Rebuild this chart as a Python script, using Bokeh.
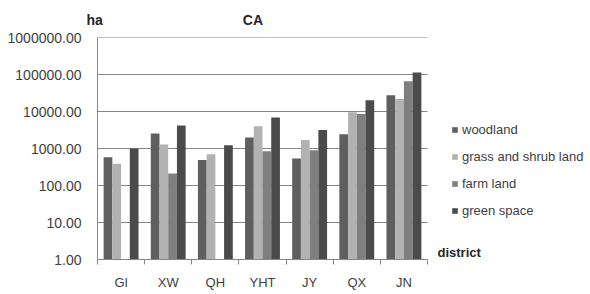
from bokeh.plotting import figure
from bokeh.models import (ColumnDataSource, Range1d, FixedTicker, PrintfTickFormatter,
                          Legend, LegendItem, Title, Label)
from bokeh.transform import dodge
from bokeh.embed import file_html
from bokeh.resources import INLINE

districts = ["Gl", "XW", "QH", "YHT", "JY", "QX", "JN"]
woodland = [580, 2540, 490, 1980, 540, 2430, 27300]
grass_shrub = [390, 1280, 700, 3990, 1700, 9500, 21700]
farm_land = [0, 212, 0, 845, 900, 8570, 65200]
green_space = [1000, 4170, 1230, 6850, 3180, 20000, 114000]
series_names = ["woodland", "grass and shrub land", "farm land", "green space"]
y_ticks = [1, 10, 100, 1000, 10000, 100000, 1000000]
title_text = "CA"
unit_text = "ha"
x_title = "district"

series = [woodland, grass_shrub, farm_land, green_space]
colors = ["#5f5f5f", "#b2b2b2", "#7f7f7f", "#4b4b4b"]
bar_w = 0.185
offsets = [-1.5 * bar_w, -0.5 * bar_w, 0.5 * bar_w, 1.5 * bar_w]
FONT = "Liberation Sans"
GRID = "#868686"

n = len(districts)
# the plotting frame runs to the right edge so legend/labels are not clipped;
# the category axis itself occupies 330 of the 493 frame pixels
x_end = n * 493.0 / 330.0

p = figure(width=590, height=294, output_backend="svg", toolbar_location=None,
           x_range=Range1d(0, x_end), y_range=Range1d(y_ticks[0], y_ticks[-1]),
           y_axis_type="log",
           min_border_left=97, min_border_right=0, min_border_top=36,
           min_border_bottom=35)
p.outline_line_color = None
p.background_fill_color = "white"
p.border_fill_color = "white"

# horizontal gridlines across the category extent only
p.segment(x0=[0] * len(y_ticks), x1=[n] * len(y_ticks), y0=y_ticks, y1=y_ticks,
          line_color=GRID, line_width=1)

items = []
for vals, name, col, off in zip(series, series_names, colors, offsets):
    xs = [i + 0.5 for i, v in enumerate(vals) if v > 0]
    ys = [v for v in vals if v > 0]
    src = ColumnDataSource(dict(x=xs, top=ys))
    r = p.vbar(x=dodge("x", off), top="top", bottom=1, width=bar_w, source=src,
               fill_color=col, line_color=None)
    items.append(LegendItem(label=name, renderers=[r]))

# x axis
xa = p.xaxis[0]
xa.bounds = (0, n)
xa.ticker = FixedTicker(ticks=[i + 0.5 for i in range(n)],
                        minor_ticks=list(range(n + 1)))
xa.major_label_overrides = {i + 0.5: d for i, d in enumerate(districts)}
xa.major_tick_line_color = None
xa.major_tick_out = 0
xa.major_tick_in = 0
xa.minor_tick_out = 5
xa.minor_tick_in = 0
xa.minor_tick_line_color = GRID
xa.axis_line_color = GRID
xa.major_label_text_font = FONT
xa.major_label_text_font_size = "13px"
xa.major_label_text_color = "#404040"
xa.major_label_standoff = 10

# y axis
ya = p.yaxis[0]
ya.ticker = FixedTicker(ticks=y_ticks, minor_ticks=[])
ya.formatter = PrintfTickFormatter(format="%.2f")
ya.major_tick_line_color = None
ya.major_tick_out = 0
ya.major_tick_in = 0
ya.minor_tick_line_color = None
ya.axis_line_color = GRID
ya.major_label_text_font = FONT
ya.major_label_text_font_size = "14px"
ya.major_label_text_color = "#404040"
ya.major_label_standoff = 16

p.xgrid.grid_line_color = None
p.ygrid.grid_line_color = None

legend = Legend(items=items, location=(354, 39), orientation="vertical",
                glyph_width=7, glyph_height=7, label_standoff=4,
                label_height=20, spacing=7, padding=0, margin=0,
                border_line_color=None, background_fill_alpha=0,
                label_text_font=FONT, label_text_font_size="13px",
                label_text_color="#404040")
p.add_layout(legend, "center")

p.add_layout(Label(x=n + 0.212, y=y_ticks[0], text=x_title, text_align="left",
                   text_baseline="bottom", text_font=FONT,
                   text_font_size="13px", text_font_style="bold",
                   text_color="#262626"))

top_line = unit_text + "\u00a0" * 36 + title_text
p.title = Title(text=top_line, align="left", offset=-11, standoff=19,
                text_font=FONT, text_font_size="14px", text_font_style="bold",
                text_color="#262626")

open("out.html", "w").write(file_html(p, INLINE))
